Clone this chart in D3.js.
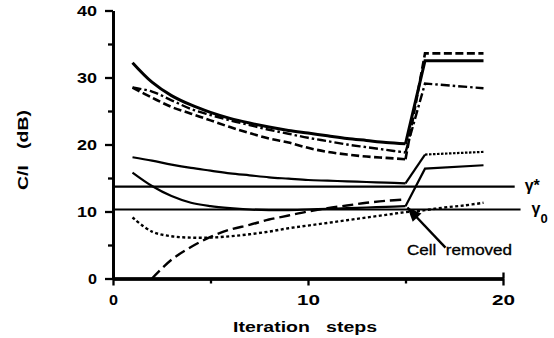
<!DOCTYPE html>
<html><head><meta charset="utf-8">
<script src="https://cdn.jsdelivr.net/npm/d3@7"></script>
<style>
body{margin:0;background:#fff;}
svg{display:block;}
text{font-family:"Liberation Sans",Arial,Helvetica,sans-serif;fill:#000;}
</style></head>
<body><svg id="c" width="554" height="338"></svg>
<script>
// ---- data ----
const iterSteps = [1,2,3,4,5,6,7,8,9,10,11,12,13,14,15];
const afterSteps = [16,19];
const solidTop      = [32.2,29.3,27.3,25.9,24.8,23.9,23.2,22.6,22.1,21.7,21.3,20.9,20.6,20.3,20.1];
const solidTopAfter = [32.5,32.5];
const dashDotTop      = [28.5,27.9,26.6,25.3,24.4,23.6,22.9,22.2,21.6,21.0,20.5,20.0,19.6,19.2,18.8];
const dashDotTopAfter = [29.1,28.4];
const dashedTop      = [28.5,27.0,25.6,24.6,23.6,22.6,21.7,20.9,20.3,19.5,18.9,18.5,18.2,18.0,17.8];
const dashedTopAfter = [33.6,33.6];
const solidMid      = [18.1,17.6,17.0,16.5,16.1,15.7,15.4,15.1,14.9,14.7,14.6,14.5,14.4,14.3,14.2];
const solidMidAfter = [18.5,18.9];
const solidLow      = [15.8,13.8,12.3,11.3,10.8,10.5,10.3,10.2,10.2,10.3,10.4,10.5,10.6,10.7,10.8];
const solidLowAfter = [16.4,16.9];
const dashedRiseSteps = [2,3,4,5,6,7,8,9,10,11,12,13,14,15];
const dashedRise = [0,2.8,4.7,6.2,7.3,8.0,8.8,9.4,10.0,10.5,10.9,11.3,11.6,11.8];
const dottedSteps = [1,2,3,4,5,6,7,8,9,10,11,12,13,14,15,16,17,18,19];
const dotted = [9.1,7.0,6.3,6.1,6.1,6.3,6.6,7.0,7.5,7.9,8.3,8.7,9.1,9.5,9.9,10.2,10.6,10.9,11.3];
const thresholdNames = ["γ*","γ0"];
const thresholdValues = [13.7,10.3];
const thresholdEnds = [20.6,20.9];
const xTicks = [0,10,20];
const xMinorTicks = [5,15];
const yTicks = [0,10,20,30,40];
const yMinorTicks = [5,15,25,35];
const annotationText = "Cell  removed";
const annotationFrom = [17.05,4.6];
const annotationTo = [15.1,10.6];
const annotationLabelAt = [15.08,3.55];

// ---- chart ----
const svg = d3.select("#c");
const x = d3.scaleLinear().domain([0,20]).range([113,503]);
const y = d3.scaleLinear().domain([0,40]).range([278.5,10.5]);

// axes
const yAxis = svg.append("g").attr("transform","translate(113,0)")
  .call(d3.axisLeft(y).tickValues(yTicks).tickSize(8).tickSizeOuter(0).tickPadding(8));
svg.append("g").attr("transform","translate(113,0)")
  .call(d3.axisLeft(y).tickValues(yMinorTicks).tickSize(5).tickSizeOuter(0).tickFormat(""));
const xAxis = svg.append("g").attr("transform","translate(0,278.5)")
  .call(d3.axisBottom(x).tickValues(xTicks).tickSize(7).tickSizeOuter(0).tickPadding(10));
svg.append("g").attr("transform","translate(0,278.5)")
  .call(d3.axisBottom(x).tickValues(xMinorTicks).tickSize(5).tickSizeOuter(0).tickFormat(""));
// upward parts of end ticks
svg.append("g").attr("transform","translate(0,278.5)")
  .call(d3.axisTop(x).tickValues([0,20]).tickSize(6).tickSizeOuter(0).tickFormat(""));
svg.selectAll(".domain").attr("stroke","#000").attr("stroke-width",2.8);
svg.selectAll(".tick line").attr("stroke","#000").attr("stroke-width",2.3);
svg.selectAll(".tick text").attr("font-size",14).attr("font-weight","bold")
  .attr("lengthAdjust","spacingAndGlyphs")
  .attr("textLength",function(){return this.textContent.length>1?20:9;});
yAxis.selectAll(".tick text").attr("dy","0.36em");
xAxis.selectAll(".tick text").attr("textLength",function(){return this.textContent.length>1?23:9;});

// axis titles
svg.append("text").attr("x",305).attr("y",332).attr("text-anchor","middle")
  .attr("font-size",14).attr("font-weight","bold").style("white-space","pre")
  .attr("textLength",144).attr("lengthAdjust","spacingAndGlyphs")
  .text("Iteration   steps");
svg.append("text").attr("transform","translate(28,150) rotate(-90)").attr("text-anchor","middle")
  .attr("font-size",14).attr("font-weight","bold").style("white-space","pre")
  .attr("textLength",80).attr("lengthAdjust","spacingAndGlyphs")
  .text("C/I   (dB)");

// threshold lines
thresholdValues.forEach((v,i)=>{
  svg.append("line").attr("x1",x(0)).attr("x2",x(thresholdEnds[i]))
    .attr("y1",y(v)).attr("y2",y(v)).attr("stroke","#000").attr("stroke-width",2.2);
});
svg.append("text").attr("x",x(thresholdEnds[0])+10).attr("y",y(thresholdValues[0])+4)
  .attr("font-size",16).attr("font-family","DejaVu Sans").attr("font-weight","bold").text("γ*");
const g0 = svg.append("text").attr("x",x(thresholdEnds[1])+11).attr("y",y(thresholdValues[1])+5)
  .attr("font-size",16).attr("font-family","DejaVu Sans").attr("font-weight","bold");
g0.append("tspan").text("γ");
g0.append("tspan").attr("dy",9).attr("font-size",13).text("0");

// curves
const smooth = d3.line().x(d=>x(d[0])).y(d=>y(d[1])).curve(d3.curveCatmullRom.alpha(0.5));
const straight = d3.line().x(d=>x(d[0])).y(d=>y(d[1]));
function series(stepsArr, vals, afterVals, dash, w, afterDash){
  const pre = stepsArr.map((s,i)=>[s,vals[i]]);
  svg.append("path").attr("d",smooth(pre)).attr("fill","none").attr("stroke","#000")
    .attr("stroke-width",w).attr("stroke-dasharray",dash).attr("stroke-linejoin","round");
  if(afterVals){
    const last = pre[pre.length-1];
    const post = [last].concat(afterSteps.map((s,i)=>[s,afterVals[i]]));
    if(afterDash!==undefined){
      svg.append("path").attr("d",straight(post.slice(0,2))).attr("fill","none").attr("stroke","#000")
        .attr("stroke-width",w).attr("stroke-dasharray",dash);
      svg.append("path").attr("d",straight(post.slice(1))).attr("fill","none").attr("stroke","#000")
        .attr("stroke-width",w).attr("stroke-dasharray",afterDash);
    } else {
      svg.append("path").attr("d",straight(post)).attr("fill","none").attr("stroke","#000")
        .attr("stroke-width",w).attr("stroke-dasharray",dash).attr("stroke-linejoin","miter");
    }
  }
}
series(iterSteps, dashedTop, dashedTopAfter, "8,3.5", 2.6);
series(iterSteps, dashDotTop, dashDotTopAfter, "9,3,2.5,3", 2.4);
series(iterSteps, solidTop, solidTopAfter, null, 3);
series(iterSteps, solidMid, solidMidAfter, null, 2.2, "2.5,1.5");
series(iterSteps, solidLow, solidLowAfter, null, 2.2);
series(dashedRiseSteps, dashedRise, null, "11,5", 2.4);
series(dottedSteps, dotted, null, "3,2.5", 2.4);

// annotation
const [fx,fy] = [x(annotationFrom[0]), y(annotationFrom[1])];
const [tx,ty] = [x(annotationTo[0]), y(annotationTo[1])];
svg.append("line").attr("x1",fx).attr("y1",fy).attr("x2",tx).attr("y2",ty)
  .attr("stroke","#000").attr("stroke-width",2.4);
const ang = Math.atan2(ty-fy, tx-fx);
const L = 14, W = 6;
const bx = tx - L*Math.cos(ang), by = ty - L*Math.sin(ang);
svg.append("polygon").attr("points",[
  [tx,ty],
  [bx + W*Math.sin(ang), by - W*Math.cos(ang)],
  [bx - W*Math.sin(ang), by + W*Math.cos(ang)]
].map(p=>p.join(",")).join(" ")).attr("fill","#000");
svg.append("text").attr("x",x(annotationLabelAt[0])).attr("y",y(annotationLabelAt[1]))
  .attr("font-size",14).style("white-space","pre")
  .attr("textLength",105).attr("lengthAdjust","spacingAndGlyphs")
  .attr("stroke","#000").attr("stroke-width",0.3)
  .text(annotationText);
</script></body></html>
